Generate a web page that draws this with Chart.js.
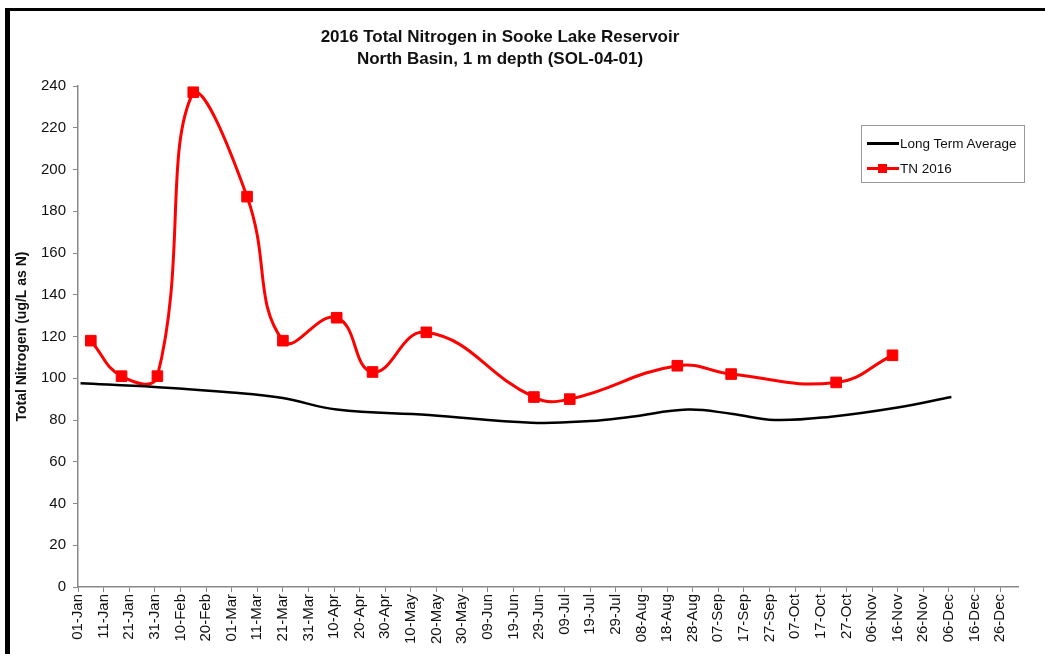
<!DOCTYPE html>
<html>
<head>
<meta charset="utf-8">
<script src="https://cdn.jsdelivr.net/npm/chart.js@4/dist/chart.umd.min.js"></script>
<style>
  body { margin: 0; background: #fff; font-family: "Liberation Sans", Arial, sans-serif; }
  #frame {
    position: absolute; left: 5px; top: 8px; width: 1035px; height: 646px;
    border-left: 5px solid #000; border-top: 3px solid #000;
  }
  #wrap { position: absolute; left: 0; top: 0; width: 1035px; height: 643px; }
  #title {
    position: absolute; left: 280px; width: 420px; top: 15px;
    text-align: center; font-weight: bold; font-size: 17px; line-height: 22px; color: #111;
  }
  #legend {
    position: absolute; left: 851px; top: 114px; width: 162px; height: 56px;
    border: 1px solid #999; font-size: 13.5px; color: #111;
  }
  .row { position: absolute; left: 5px; height: 16px; display: flex; align-items: center; }
  .sw { position: relative; width: 32px; height: 16px; margin-right: 1px; }
  .sw .ln { position: absolute; left: 0; right: 0; top: 7px; height: 3px; }
  .sw .mk { position: absolute; left: 11px; top: 4px; width: 9px; height: 9px; }
</style>
</head>
<body>
<div id="frame">
  <div id="wrap"><canvas id="chart"></canvas></div>
  <div id="title">2016 Total Nitrogen in Sooke Lake Reservoir<br>North Basin, 1 m depth (SOL-04-01)</div>
  <div id="legend"></div>
</div>
<script>
// x positions are day of year (01-Jan = 0)
var tickLabels = ['01-Jan','11-Jan','21-Jan','31-Jan','10-Feb','20-Feb','01-Mar','11-Mar','21-Mar','31-Mar',
  '10-Apr','20-Apr','30-Apr','10-May','20-May','30-May','09-Jun','19-Jun','29-Jun','09-Jul','19-Jul','29-Jul',
  '08-Aug','18-Aug','28-Aug','07-Sep','17-Sep','27-Sep','07-Oct','17-Oct','27-Oct','06-Nov','16-Nov','26-Nov',
  '06-Dec','16-Dec','26-Dec']

var avgDays = [1, 30, 60, 80, 101, 137, 177, 200, 216, 238, 255, 272, 294, 320, 341]
var avgValues = [97.6, 95.8, 93.2, 90.5, 85, 82.4, 78.7, 79.5, 81.6, 85, 83, 80, 81.6, 86, 91]

var tnDays = [5, 17, 31, 45, 66, 80, 101, 115, 136, 178, 192, 234, 255, 296, 318]
var tnValues = [118, 101, 101, 237, 187, 118, 129, 103, 122, 91, 90, 106, 102, 98, 111]

function pts(xs, ys) {
  return xs.map(function (x, i) { return { x: x, y: ys[i] } })
}

var datasets = [{
  label: 'Long Term Average',
  data: pts(avgDays, avgValues),
  borderColor: '#000',
  backgroundColor: '#000',
  borderWidth: 2.5,
  pointRadius: 0,
  tension: 0.4
}, {
  label: 'TN 2016',
  data: pts(tnDays, tnValues),
  borderColor: '#ff0000',
  backgroundColor: '#ff0000',
  borderWidth: 3,
  pointStyle: 'rect',
  pointRadius: 7.5,
  pointBorderWidth: 1,
  tension: 0.45
}]

var ctx = document.getElementById('chart')
var myChart = new Chart(ctx, {
  type: 'line',
  data: { datasets: datasets },
  options: {
    responsive: true,
    maintainAspectRatio: false,
    animation: false,
    layout: { padding: { left: 0, top: 75, right: 27, bottom: 0 } },
    plugins: { legend: { display: false }, tooltip: { enabled: false } },
    scales: {
      x: {
        type: 'linear',
        min: 0,
        max: 367,
        afterBuildTicks: function (axis) {
          axis.ticks = tickLabels.map(function (l, i) { return { value: i * 10 } })
        },
        afterFit: function (scale) { scale.height = 67 },
        grid: { drawOnChartArea: false, tickLength: 5, color: '#888' },
        border: { color: '#888', width: 1.5 },
        ticks: {
          autoSkip: false,
          maxRotation: 90,
          minRotation: 90,
          padding: 2,
          color: '#111',
          font: { family: 'Liberation Sans', size: 15 },
          callback: function (v) { return tickLabels[Math.round(v / 10)] }
        }
      },
      y: {
        min: 0,
        max: 240,
        afterFit: function (scale) { scale.width = 68 },
        grid: { drawOnChartArea: false, tickLength: 5, color: '#888' },
        border: { color: '#888', width: 1.5 },
        ticks: {
          stepSize: 10,
          padding: 7,
          color: '#111',
          font: { family: 'Liberation Sans', size: 15 },
          callback: function (v) { return v % 20 === 0 ? v : '' }
        },
        title: {
          display: true,
          text: 'Total Nitrogen (ug/L as N)',
          color: '#111',
          font: { family: 'Liberation Sans', size: 14, weight: 'bold' },
          padding: { top: 4, bottom: 0 }
        }
      }
    }
  }
})

// legend built from the datasets
var lg = document.getElementById('legend')
datasets.forEach(function (ds, i) {
  var row = document.createElement('div')
  row.className = 'row'
  row.style.top = (i === 0 ? 9 : 34) + 'px'
  var sw = '<div class="sw"><div class="ln" style="background:' + ds.borderColor + '"></div>' +
    (ds.pointStyle === 'rect' ? '<div class="mk" style="background:' + ds.backgroundColor + '"></div>' : '') + '</div>'
  row.innerHTML = sw + '<span>' + ds.label + '</span>'
  lg.appendChild(row)
})
</script>
</body>
</html>
